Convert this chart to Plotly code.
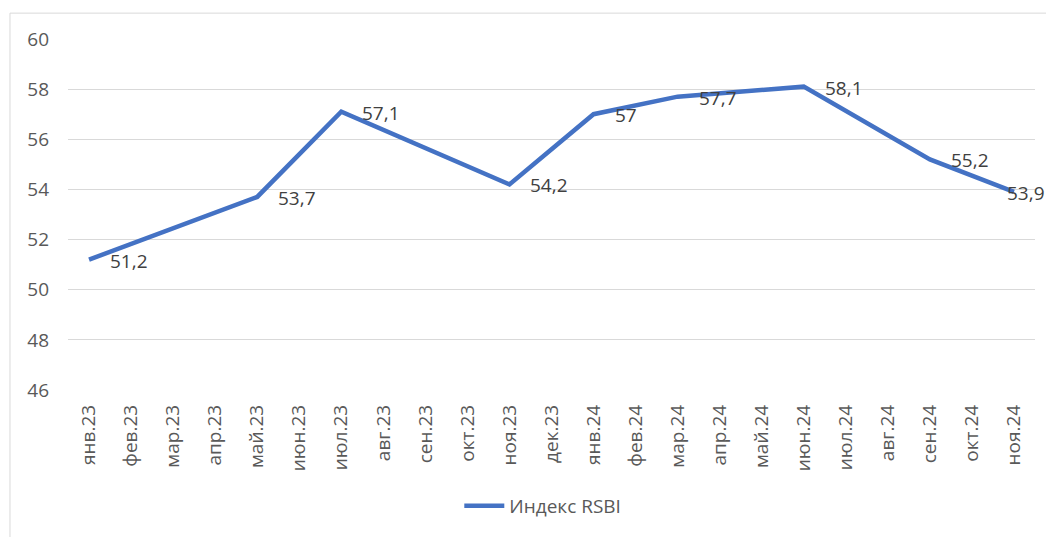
import plotly.graph_objects as go

months = ["янв.23", "фев.23", "мар.23", "апр.23", "май.23", "июн.23", "июл.23",
          "авг.23", "сен.23", "окт.23", "ноя.23", "дек.23", "янв.24", "фев.24",
          "мар.24", "апр.24", "май.24", "июн.24", "июл.24", "авг.24", "сен.24",
          "окт.24", "ноя.24"]
rsbi = [51.2, None, None, None, 53.7, None, 57.1,
        None, None, None, 54.2, None, 57.0, None,
        57.7, None, None, 58.1, None, None, 55.2,
        None, 53.9]
series_name = "Индекс RSBI"
y_ticks = [46, 48, 50, 52, 54, 56, 58, 60]

FONT = "Open Sans, Liberation Sans, sans-serif"

fig = go.Figure()
fig.add_trace(go.Scatter(
    x=months, y=rsbi, mode="lines", name=series_name,
    connectgaps=True,
    line=dict(color="#4472C4", width=4.5),
    hoverinfo="skip",
))

pts = [(m, v) for m, v in zip(months, rsbi) if v is not None]
for i, (m, v) in enumerate(pts):
    last = i == len(pts) - 1
    txt = ("%g" % v).replace(".", ",")
    fig.add_annotation(
        x=m, y=v, text=txt, showarrow=False,
        xanchor="left", yanchor="middle",
        xshift=-9 if last else 19, yshift=-1,
        font=dict(family=FONT, size=19, color="#404040"),
    )

# chart border
fig.add_shape(type="rect", xref="paper", yref="paper",
              x0=-0.06, x1=1.019, y0=-0.45, y1=1.0737,
              line=dict(color="#d9d9d9", width=1), layer="below")

fig.update_layout(
    width=1046, height=529,
    margin=dict(l=60, r=19, t=31, b=145),
    paper_bgcolor="white", plot_bgcolor="white",
    showlegend=True,
    legend=dict(orientation="h", x=0.491, xanchor="center", y=-0.33, yanchor="middle",
                font=dict(family=FONT, size=19, color="#595959"),
                itemwidth=40),
    xaxis=dict(
        type="category", categoryorder="array", categoryarray=months,
        range=[-0.5, len(months) - 0.5],
        tickangle=-90, showgrid=False, zeroline=False, showline=False,
        ticks="", ticklabelstandoff=10,
        tickfont=dict(family=FONT, size=19, color="#595959"),
    ),
    yaxis=dict(
        range=[46, 60], tickvals=y_ticks, showgrid=True,
        gridcolor="#d9d9d9", gridwidth=1, zeroline=False, showline=False,
        ticks="", ticklabelstandoff=18,
        tickfont=dict(family=FONT, size=19, color="#595959"),
    ),
)

fig.write_html("out.html")
